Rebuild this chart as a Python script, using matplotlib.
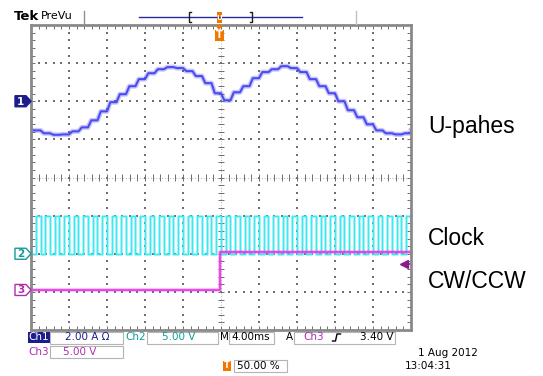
import numpy as np
import matplotlib.pyplot as plt
from matplotlib.patches import Polygon, Rectangle
from matplotlib.collections import LineCollection

plt.rcParams['font.family'] = ['DejaVu Sans']

# time axis: 4 ms/div, 10 divisions, trigger in the middle
t_left, t_right = -20.0, 20.0
ms_per_div = 4.0

# Ch1: phase current, one value per 1 ms microstep (A), 2.00 A/div
ch1_t = [-20, -19, -18, -17, -16, -15, -14, -13, -12, -11, -10, -9, -8, -7, -6, -5, -4, -3, -2, -1,
         0, 1, 2, 3, 4, 5, 6, 7, 8, 9, 10, 11, 12, 13, 14, 15, 16, 17, 18, 19, 20]
ch1_amps = [-1.53, -1.68, -1.76, -1.74, -1.58, -1.37, -1.00, -0.53, -0.05, 0.37, 0.79, 1.16, 1.47, 1.68,
            1.79, 1.74, 1.58, 1.32, 0.95, 0.42, 0.05, 0.47, 0.79, 1.21, 1.53, 1.68, 1.84, 1.74, 1.53,
            1.16, 0.79, 0.42, 0.00, -0.47, -0.84, -1.21, -1.53, -1.68, -1.74, -1.68, -1.53]
ch1_scale = 2.0
ch1_offset = 2.0
step_rise_ms = 0.35

# Ch2: clock, rising edges (ms), high for 0.5 ms, 5.00 V/div
clock_rise = [-19.5, -18.5, -17.5, -16.5, -15.5, -14.5, -13.5, -12.5, -11.5, -10.5,
              -9.5, -8.5, -7.5, -6.5, -5.5, -4.5, -3.5, -2.5, -1.5, -0.5,
              0.5, 1.5, 2.5, 3.5, 4.5, 5.5, 6.5, 7.5, 8.5, 9.5,
              10.5, 11.5, 12.5, 13.5, 14.5, 15.5, 16.5, 17.5, 18.5, 19.5]
clock_high_ms = 0.5
clock_levels = [0.0, 5.0]
ch2_scale = 5.0
ch2_offset = -2.0

# Ch3: direction signal, switches at the trigger
dir_t = [-20.0, -0.1, -0.1, 20.0]
dir_v = [0.0, 0.0, 5.0, 5.0]
ch3_scale = 5.0
ch3_offset = -2.95
trig_level = 3.40

c_blue = '#4b4bf2'
c_cyan = '#3ee8f0'
c_mag = '#e53de5'
c_navy = '#1c1c8c'
c_teal = '#159a9a'
c_magtxt = '#b02cb0'
c_orange = '#f07800'
c_grid = '#6e6e6e'

fig = plt.figure(figsize=(5.43, 3.76), dpi=100)
ax = fig.add_axes([31 / 543, 46 / 376, 380 / 543, 305 / 376])
ax.set_xlim(t_left, t_right)
ax.set_ylim(-4, 4)

# graticule
minor_x = np.arange(t_left, t_right + 0.01, ms_per_div / 5)
minor_y = np.arange(-4, 4.01, 0.2)
for xm in np.arange(-16, 17, 4):
    if xm != 0:
        ax.scatter(np.full(len(minor_y), xm), minor_y, s=0.6, marker='s', color=c_grid, lw=0)
for ym in range(-3, 4):
    if ym != 0:
        ax.scatter(minor_x, np.full(len(minor_x), ym), s=0.6, marker='s', color=c_grid, lw=0)
segs = [[(-0.35, y), (0.35, y)] for y in minor_y]
segs += [[(x, -0.09), (x, 0.09)] for x in minor_x]
ax.add_collection(LineCollection(segs, colors=c_grid, linewidths=0.7))
ax.axvline(0, color=c_grid, lw=0.5, ls=(0, (1, 3)))
ax.axhline(0, color=c_grid, lw=0.5, ls=(0, (1, 3)))

ax.set_xticks(minor_x)
ax.set_yticks(minor_y)
ax.tick_params(direction='in', length=3, width=0.7, color=c_grid, top=True, right=True,
               labelbottom=False, labelleft=False)
for sp in ax.spines.values():
    sp.set_color('#8a8a8a')
    sp.set_linewidth(2)

# Ch2 clock square wave
ck_t, ck_v = [t_left], [clock_levels[0]]
for r in clock_rise:
    ck_t += [r, r, r + clock_high_ms, r + clock_high_ms]
    ck_v += [clock_levels[0], clock_levels[1], clock_levels[1], clock_levels[0]]
ck_t.append(t_right)
ck_v.append(clock_levels[0])
ck_y = ch2_offset + np.array(ck_v) / ch2_scale
ax.plot(ck_t, ck_y, color=c_cyan, lw=2.2, alpha=0.35)
ax.plot(ck_t, ck_y, color=c_cyan, lw=1.0)

# Ch3 direction
d_y = ch3_offset + np.array(dir_v) / ch3_scale
ax.plot(dir_t, d_y, color=c_mag, lw=3, alpha=0.3)
ax.plot(dir_t, d_y, color=c_mag, lw=1.3)

# Ch1 current: each microstep holds its level, with a short slew into the next one
cur_t, cur_v = [ch1_t[0]], [ch1_amps[0]]
for i in range(1, len(ch1_t)):
    cur_t += [ch1_t[i], ch1_t[i] + step_rise_ms]
    cur_v += [ch1_amps[i - 1], ch1_amps[i]]
cur_t = np.clip(cur_t, t_left, t_right)
c_y = ch1_offset + np.array(cur_v) / ch1_scale
ax.plot(cur_t, c_y, color=c_blue, lw=3.6, alpha=0.3)
ax.plot(cur_t, c_y, color=c_blue, lw=1.5)

# trigger level marker
trig_y = ch3_offset + trig_level / ch3_scale
ax.plot([19.4, 20], [trig_y, trig_y], color='#8b1a8b', lw=1.2, clip_on=False)
ax.plot([19.3], [trig_y], marker='<', ms=6, color='#8b1a8b', clip_on=False)

# overlay in pixel coordinates for the scope readouts
ov = fig.add_axes([0, 0, 1, 1], facecolor='none')
ov.set_xlim(0, 543)
ov.set_ylim(376, 0)
ov.axis('off')


def y_px(div):
    return 177.5 - div * 38.125


# channel ground markers
for off, num, face, edge, tc in [(ch1_offset, '1', c_navy, c_navy, 'white'),
                                 (ch2_offset, '2', 'white', c_teal, c_teal),
                                 (ch3_offset, '3', 'white', c_magtxt, c_magtxt)]:
    yp = y_px(off)
    ov.add_patch(Polygon([(15, yp - 5.5), (26, yp - 5.5), (31, yp), (26, yp + 5.5), (15, yp + 5.5)],
                         closed=True, fc=face, ec=edge, lw=1))
    ov.text(20.5, yp + 0.5, num, color=tc, fontsize=7.5, fontweight='bold', ha='center', va='center')

# top status bar
ov.text(14, 16, 'Tek', fontsize=9.5, fontweight='bold', va='center')
ov.text(41, 16, 'PreVu', fontsize=8, va='center')
ov.plot([84, 84], [11, 23], color='#909090', lw=1)
ov.plot([356, 356], [11, 24], color='#c0c0c0', lw=1)
ov.plot([139, 302], [17, 17], color='#2a2aa0', lw=1)
ov.plot([191, 189, 189, 191], [12, 12, 22, 22], color='#202020', lw=1)
ov.plot([250, 252, 252, 250], [12, 12, 22, 22], color='#202020', lw=1)
ov.add_patch(Rectangle((216.5, 12), 5, 11, fc=c_orange, ec='none'))
ov.text(219, 17.5, 'U', color='white', fontsize=5, ha='center', va='center', fontweight='bold')
ov.add_patch(Polygon([(215, 25), (223, 25), (219, 30)], closed=True, fc=c_orange, ec='none'))
ov.add_patch(Rectangle((214.5, 30), 9, 11, fc=c_orange, ec='none'))
ov.text(219, 35.5, 'T', color='white', fontsize=7, ha='center', va='center', fontweight='bold')

# readout rows
fs = 7.5
box_c = '#b4b4b4'
r1, r2, r3 = 337.5, 352, 366
ov.add_patch(Rectangle((28, 332), 22, 11, fc=c_navy, ec='none'))
ov.text(39, r1, 'Ch1', color='white', fontsize=fs, ha='center', va='center')
ov.add_patch(Rectangle((50, 332), 73, 12, fc='none', ec=box_c, lw=0.8))
ov.text(65, r1, '2.00 A \u03a9', color=c_navy, fontsize=fs, va='center')
ov.text(125, r1, 'Ch2', color=c_teal, fontsize=fs, va='center')
ov.add_patch(Rectangle((147, 332), 71, 12, fc='none', ec=box_c, lw=0.8))
ov.text(162, r1, '5.00 V', color=c_teal, fontsize=fs, va='center')
ov.text(220, r1, 'M', color='black', fontsize=fs, va='center')
ov.add_patch(Rectangle((229, 332), 45, 12, fc='none', ec=box_c, lw=0.8))
ov.text(231, r1, '4.00ms', color='black', fontsize=fs, va='center')
ov.text(286, r1, 'A', color='black', fontsize=fs, va='center')
ov.add_patch(Rectangle((294, 332), 101, 12, fc='none', ec=box_c, lw=0.8))
ov.text(303, r1, 'Ch3', color=c_magtxt, fontsize=fs, va='center')
ov.plot([332.5, 335.5, 337, 340.5], [341, 341, 334, 334], color='black', lw=1)
ov.text(393, r1, '3.40 V', color='black', fontsize=fs, ha='right', va='center')

ov.text(28, r2, 'Ch3', color=c_magtxt, fontsize=fs, va='center')
ov.add_patch(Rectangle((50, 346), 73, 12, fc='none', ec=box_c, lw=0.8))
ov.text(63, r2, '5.00 V', color=c_magtxt, fontsize=fs, va='center')

ov.add_patch(Rectangle((223, 361), 7.5, 10, fc=c_orange, ec='none'))
ov.text(226.7, r3, 'T', color='white', fontsize=6, ha='center', va='center', fontweight='bold')
ov.add_patch(Rectangle((234, 360), 53, 12, fc='none', ec=box_c, lw=0.8))
ov.text(237, r3, '50.00 %', color='black', fontsize=fs, va='center')

ov.text(478, 353, '1 Aug 2012', color='black', fontsize=fs, ha='right', va='center')
ov.text(452, r3, '13:04:31', color='black', fontsize=fs, ha='right', va='center')

# signal names
for label, yb in [('U-pahes', 133), ('Clock', 245), ('CW/CCW', 288)]:
    ov.text(428, yb, label, fontsize=16.5, family='Liberation Sans', va='baseline')

fig.savefig('out.png', dpi=100)
